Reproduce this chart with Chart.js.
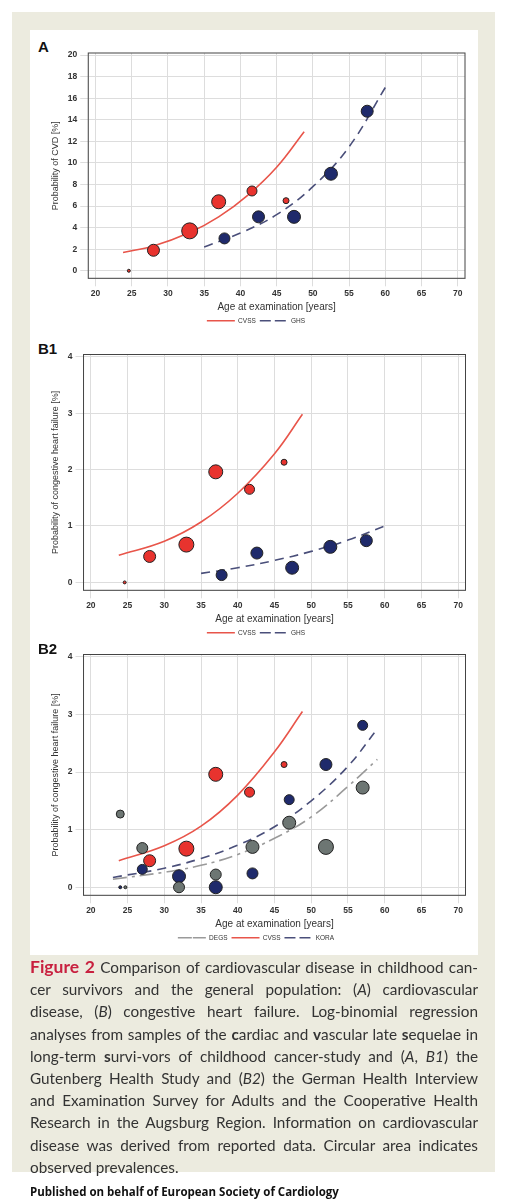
<!DOCTYPE html>
<html><head><meta charset="utf-8">
<script src="https://cdn.jsdelivr.net/npm/chart.js@4"></script>
<style>
body{margin:0;background:#fff;font-family:"Liberation Sans",Arial,sans-serif;}
#outer{position:absolute;left:12px;top:12px;width:483px;height:1160px;background:#ecebdf;}
#inner{position:absolute;left:18px;top:18px;width:448px;height:925px;background:#fff;}
.lab{position:absolute;left:8px;font-weight:bold;font-size:15px;color:#111;}
.box{position:absolute;left:4px;width:440px;}
#cap{position:absolute;left:30px;top:956px;width:448px;font-family:"Lato","Open Sans",sans-serif;font-size:15.3px;line-height:22.2px;color:#333;text-align:justify;}
#cap .fg{color:#c8203f;font-weight:bold;font-size:17.5px;}
#pub{position:absolute;left:30px;top:1184px;font-family:"Open Sans",sans-serif;font-weight:bold;font-size:11.5px;color:#111;}
</style></head><body>
<div id="outer"><div id="inner">
<div class="lab" style="top:8px">A</div>
<div class="box" style="top:14px;height:290px"><canvas id="cA"></canvas></div>
<div class="lab" style="top:310px">B1</div>
<div class="box" style="top:316px;height:300px"><canvas id="cB1"></canvas></div>
<div class="lab" style="top:610px">B2</div>
<div class="box" style="top:616px;height:305px"><canvas id="cB2"></canvas></div>
</div></div>
<div id="cap"><span class="fg">Figure 2</span> Comparison of cardiovascular disease in childhood can-cer survivors and the general population: (<i>A</i>) cardiovascular disease, (<i>B</i>) congestive heart failure. Log-binomial regression analyses from samples of the <b>c</b>ardiac and <b>v</b>ascular late <b>s</b>equelae in long-term <b>s</b>urvi-vors of childhood cancer-study and (<i>A</i>, <i>B1</i>) the Gutenberg Health Study and (<i>B2</i>) the German Health Interview and Examination Survey for Adults and the Cooperative Health Research in the Augsburg Region. Information on cardiovascular disease was derived from reported data. Circular area indicates observed prevalences.</div>
<div id="pub">Published on behalf of European Society of Cardiology</div>
<script>
// Panel A
const A_cvssPts=[[24.6,0,1.5],[28,1.9,6],[33,3.7,8],[37,6.4,7],[41.6,7.4,5],[46.3,6.5,3]];
const A_ghsPts=[[37.8,3,5.5],[42.5,5,6],[47.4,5,6.5],[52.5,9,6.5],[57.5,14.8,6]];
const A_cvssCurve=[[23.8,1.7],[28,2.3],[33,3.55],[37,5.0],[41,7.0],[45,9.6],[48.8,12.9]];
const A_ghsCurve=[[35,2.2],[40,3.5],[45,5.2],[50,7.8],[55,11.5],[60,17]];
// Panel B1
const B1_cvssPts=[[24.6,0,1.5],[28,0.46,6],[33,0.67,7.5],[37,1.96,7],[41.6,1.65,5],[46.3,2.13,3]];
const B1_ghsPts=[[37.8,0.13,5.5],[42.6,0.52,6],[47.4,0.26,6.5],[52.6,0.63,6.5],[57.5,0.74,6]];
const B1_cvssCurve=[[23.8,0.48],[30,0.73],[35,1.07],[40,1.58],[45,2.28],[48.8,2.98]];
const B1_ghsCurve=[[35,0.16],[40,0.26],[45,0.39],[50,0.55],[55,0.75],[60,1.0]];
// Panel B2
const B2_cvssPts=[[28,0.46,6],[33,0.67,7.5],[37,1.96,7],[41.6,1.65,5],[46.3,2.13,3]];
const B2_koraPts=[[24,0,1.5],[27,0.31,5],[32,0.19,6.5],[37,0,6.5],[42,0.24,5.5],[47,1.52,5],[52,2.13,6],[57,2.81,5]];
const B2_degsPts=[[24,1.27,4],[24.7,0,1.5],[27,0.68,5.5],[32,0,5.5],[37,0.22,5.5],[42,0.7,6.5],[47,1.12,6.5],[52,0.7,7.5],[57,1.73,6.5]];
const B2_cvssCurve=[[23.8,0.46],[30,0.72],[35,1.06],[40,1.6],[45,2.35],[48.8,3.05]];
const B2_koraCurve=[[23,0.17],[30,0.33],[35,0.5],[40,0.73],[45,1.05],[50,1.5],[55,2.1],[59,2.75]];
const B2_degsCurve=[[23,0.14],[30,0.26],[35,0.38],[40,0.57],[45,0.85],[50,1.22],[55,1.75],[59,2.22]];
const xTicks=[20,25,30,35,40,45,50,55,60,65,70];

const RED='#e8332e',NAVY='#1f2a6b',GRAY='#6d7673';
function pts(a){return a.map(p=>({x:p[0],y:p[1]}));}
function scat(a,c){return {type:'scatter',data:pts(a),backgroundColor:c,borderColor:'#222',borderWidth:1,pointRadius:a.map(p=>p[2]),pointHoverRadius:a.map(p=>p[2]),showInLegend:false};}
function line(a,lbl,c,dash){return {type:'line',label:lbl,data:pts(a),borderColor:c,backgroundColor:c,borderWidth:1.6,borderDash:dash,pointRadius:0,tension:0.4,fill:false,showInLegend:true};}
const boxPlug={id:'box',afterDraw(ch){const a=ch.chartArea,c=ch.ctx;c.save();c.strokeStyle='#444';c.lineWidth=1;c.strokeRect(a.left,a.top,a.right-a.left,a.bottom-a.top);c.restore();}};
function make(id,ds,ymax,ystep,ytitle){
 new Chart(document.getElementById(id),{data:{datasets:ds},plugins:[boxPlug],
 options:{responsive:true,maintainAspectRatio:false,animation:false,
 layout:{padding:{left:12,right:8,top:0}},
 plugins:{tooltip:{enabled:false},legend:{position:'bottom',labels:{font:{size:6.5},color:'#333',boxWidth:28,boxHeight:0,padding:4,
   filter:(it,d)=>d.datasets[it.datasetIndex].showInLegend}}},
 scales:{x:{type:'linear',min:19,max:71,afterBuildTicks:s=>{s.ticks=xTicks.map(v=>({value:v}));},
   ticks:{font:{size:8.5,weight:'bold'},color:'#333',padding:2},grid:{color:'#dddddd'},
   title:{display:true,text:'Age at examination [years]',font:{size:10},color:'#333',padding:{top:1,bottom:0}}},
  y:{type:'linear',min:-ymax*0.035,max:ymax*1.01,afterBuildTicks:s=>{const t=[];for(let v=0;v<=ymax;v+=ystep)t.push({value:v});s.ticks=t;},
   ticks:{font:{size:8.5,weight:'bold'},color:'#333'},grid:{color:'#dddddd'},
   title:{display:true,text:ytitle,font:{size:9},color:'#333'}}}}});
}
make('cA',[scat(A_cvssPts,RED),scat(A_ghsPts,NAVY),line(A_cvssCurve,'CVSS','#e8554a',[]),line(A_ghsCurve,'GHS','#4a4f7a',[9,6])],20,2,'Probability of CVD [%]');
make('cB1',[scat(B1_cvssPts,RED),scat(B1_ghsPts,NAVY),line(B1_cvssCurve,'CVSS','#e8554a',[]),line(B1_ghsCurve,'GHS','#4a4f7a',[9,6])],4,1,'Probability of congestive heart failure [%]');
make('cB2',[scat(B2_degsPts,GRAY),scat(B2_koraPts,NAVY),scat(B2_cvssPts,RED),line(B2_degsCurve,'DEGS','#9a9a9a',[14,5,3,5]),line(B2_cvssCurve,'CVSS','#e8554a',[]),line(B2_koraCurve,'KORA','#4a4f7a',[9,6])],4,1,'Probability of congestive heart failure [%]');
</script></body></html>
